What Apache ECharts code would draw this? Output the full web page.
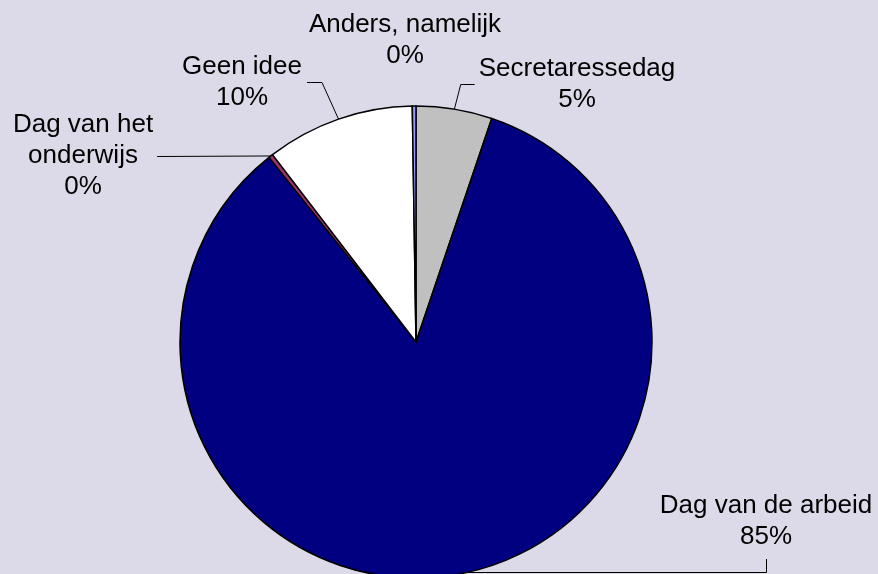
<!DOCTYPE html>
<html><head><meta charset="utf-8">
<script src="https://cdn.jsdelivr.net/npm/echarts@6/dist/echarts.min.js"></script>
<style>html,body{margin:0;padding:0;background:#DCDAE8}#c{width:878px;height:574px}</style>
</head><body><div id="c"></div>
<script>
// ---- data ----
const categories = ['Secretaressedag', 'Dag van de arbeid', 'Dag van het onderwijs', 'Geen idee', 'Anders, namelijk'];
const labelNames = ['Secretaressedag', 'Dag van de arbeid', 'Dag van het\nonderwijs', 'Geen idee', 'Anders, namelijk'];
const values = [5.2, 84.1, 0.3, 10.15, 0.25];
const pctLabels = ['5%', '85%', '0%', '10%', '0%'];

// ---- styles / layout ----
const colors = ['#C0C0C0', '#000080', '#993366', '#FFFFFF', '#9999FF'];
const CX = 416, CY = 342, R = 236;
const labelPlacement = [
  { x: 577, y: 84, side: 'left' },
  { x: 766, y: 521, side: 'bottom' },
  { x: 83, y: 156, side: 'right' },
  { x: 242, y: 82, side: 'right-elbow' },
  { x: 405, y: 40, side: 'none' }
];

const total = values.reduce((a, b) => a + b, 0);
function anchorOf(i) {
  let start = 0;
  for (let k = 0; k < i; k++) start += values[k];
  const mid = start + values[i] / 2;
  const t = mid / total * Math.PI * 2;
  return [CX + R * Math.sin(t), CY - R * Math.cos(t)];
}

const chart = echarts.init(document.getElementById('c'), null, { renderer: 'canvas' });
chart.setOption({
  backgroundColor: '#DCDAE8',
  animation: false,
  series: [{
    type: 'pie',
    center: [CX, CY],
    radius: R,
    startAngle: 90,
    clockwise: true,
    avoidLabelOverlap: false,
    minShowLabelAngle: 0,
    emphasis: { disabled: true },
    itemStyle: { borderColor: '#000', borderWidth: 1.5 },
    label: {
      show: true,
      position: 'outside',
      color: '#000',
      fontSize: 26,
      lineHeight: 31,
      fontFamily: '"Liberation Sans", Arial, sans-serif',
      formatter: p => labelNames[p.dataIndex] + '\n' + pctLabels[p.dataIndex]
    },
    labelLine: { show: true, smooth: false, lineStyle: { color: '#000', width: 1 } },
    labelLayout: function (params) {
      const i = params.dataIndex;
      const p = labelPlacement[i];
      const w = params.labelRect.width, h = params.labelRect.height;
      const a = anchorOf(i);
      let pts = null;
      if (p.side === 'left') {
        const bx = p.x - w / 2 - 4;
        pts = [[a[0], a[1]], [bx - 14, p.y + 0.5], [bx, p.y + 0.5]];
      } else if (p.side === 'right-elbow') {
        const bx = p.x + w / 2 + 5;
        pts = [[a[0], a[1]], [bx + 15, p.y + 0.5], [bx, p.y + 0.5]];
      } else if (p.side === 'right') {
        const bx = p.x + w / 2 + 4;
        pts = [[a[0], a[1]], [bx, p.y + 0.5]];
      } else if (p.side === 'bottom') {
        const by = p.y + h / 2 + 7;
        const ly = Math.floor(a[1]) - 1.5;
        pts = [[a[0], ly], [Math.round(p.x) + 0.5, ly], [Math.round(p.x) + 0.5, by]];
      }
      const out = { x: p.x, y: p.y, align: 'center', verticalAlign: 'middle' };
      if (pts) out.labelLinePoints = pts;
      return out;
    },
    data: categories.map((name, i) => ({
      name: name,
      value: values[i],
      itemStyle: { color: colors[i] },
      labelLine: { show: labelPlacement[i].side !== 'none' }
    }))
  }]
});
</script>
</body></html>
